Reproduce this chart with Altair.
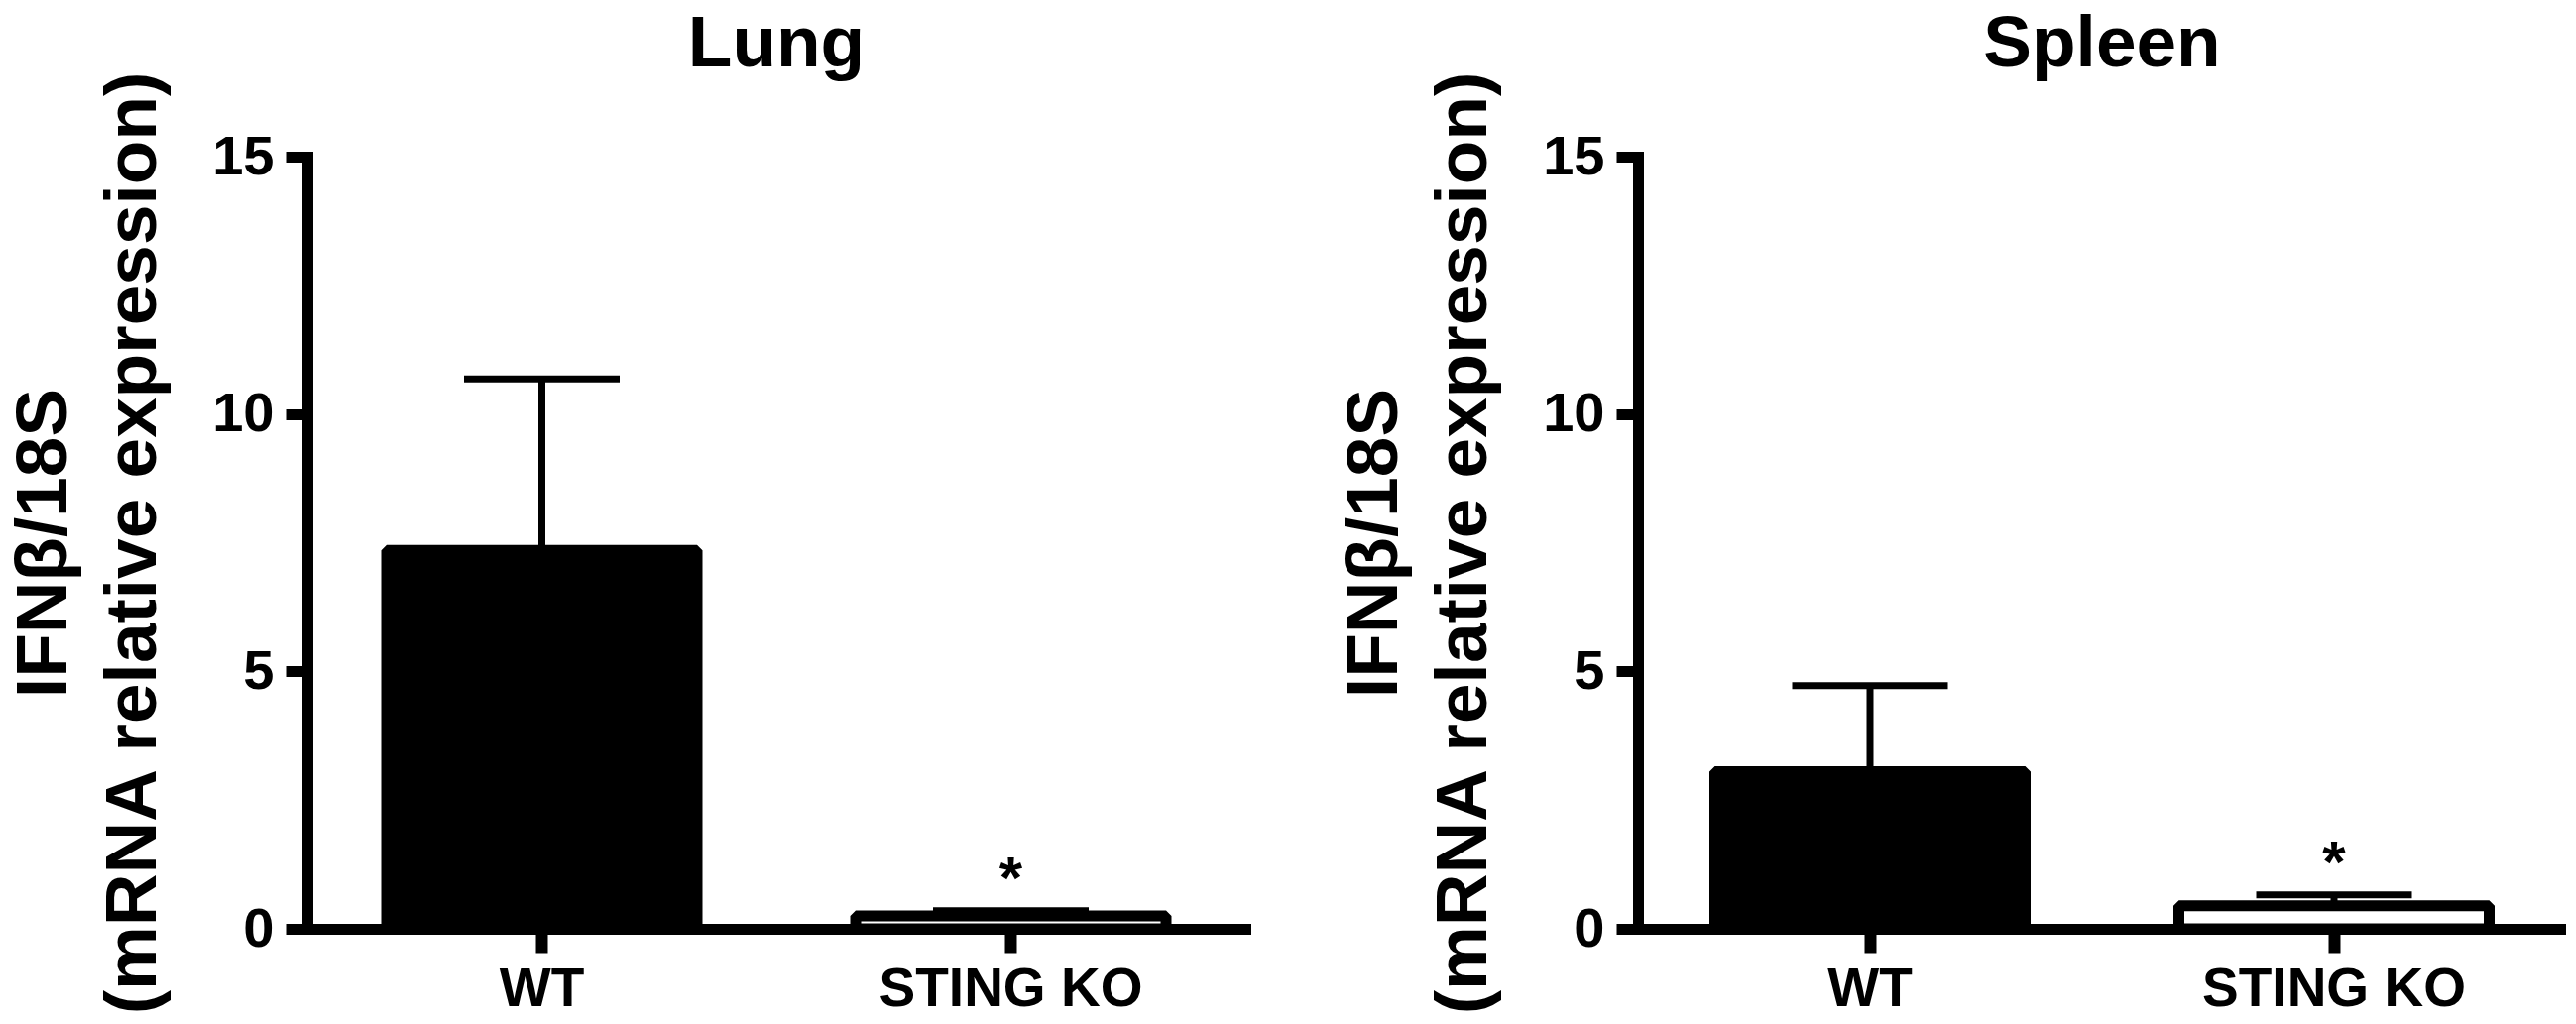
import altair as alt
import pandas as pd

groups = ["WT", "STING KO"]
lung_mean = [7.35, 0.25]
lung_sem = [3.33, 0.10]
spleen_mean = [3.05, 0.45]
spleen_sem = [1.67, 0.21]
significance = ["", "*"]
bar_fill = ["black", "white"]
y_ticks = [0, 5, 10, 15]
panel_titles = ["Lung", "Spleen"]
y_title = ["IFNβ/18S", "(mRNA relative expression)"]

FONT = "Liberation Sans"


def panel(title, means, sems, width):
    df = pd.DataFrame({"group": groups, "mean": means, "sem": sems, "sig": significance})
    df["top"] = df["mean"] + df["sem"]
    x = alt.X(
        "group:N",
        sort=groups,
        scale=alt.Scale(paddingInner=0, paddingOuter=0),
        axis=alt.Axis(
            title=None, labelAngle=0, labelFont=FONT, labelFontSize=55,
            labelFontWeight="bold", labelColor="black", labelPadding=10,
            labelLimit=600,
            tickSize=24, tickWidth=12, tickColor="black",
            domainWidth=11, domainColor="black", domainCap="square", grid=False,
        ),
    )
    yscale = alt.Scale(domain=[0, 15], nice=False, zero=True)
    base = alt.Chart(df).encode(x=x)
    bars = base.mark_bar(size=313, stroke="black", strokeWidth=11, strokeJoin="bevel", opacity=1).encode(
        y=alt.Y(
            "mean:Q", scale=yscale,
            axis=alt.Axis(
                values=y_ticks, title=y_title, titleFont=FONT, titleFontSize=73,
                titleFontWeight="bold", titleColor="black", titleLineHeight=90,
                titlePadding=42, labelFont=FONT, labelFontSize=56,
                labelFontWeight="bold", labelColor="black", labelPadding=12,
                tickSize=22, tickWidth=11, tickColor="black",
                domainWidth=11, domainColor="black", domainCap="square", grid=False,
            ),
        ),
        fill=alt.Fill("group:N", scale=alt.Scale(domain=groups, range=bar_fill), legend=None),
    )
    rule = base.mark_rule(strokeWidth=7, color="black", opacity=1).encode(
        y=alt.Y("mean:Q", scale=yscale), y2="top:Q"
    )
    cap = base.mark_tick(size=157, thickness=7, color="black", opacity=1).encode(
        y=alt.Y("top:Q", scale=yscale)
    )
    star = base.mark_text(
        font=FONT, fontSize=60, fontWeight="bold", color="black",
        baseline="alphabetic", dy=-13,
    ).encode(y=alt.Y("top:Q", scale=yscale), text="sig:N")
    return alt.layer(bars, rule, cap, star).properties(
        width=width,
        height=779,
        title=alt.TitleParams(
            text=title, font=FONT, fontSize=73, fontWeight="bold",
            color="black", anchor="middle", offset=-11,
        ),
    )


chart = alt.hconcat(
    panel(panel_titles[0], lung_mean, lung_sem, 946),
    panel(panel_titles[1], spleen_mean, spleen_sem, 936),
    spacing=94,
).properties(padding=0).configure(
    background="white",
    view=alt.ViewConfig(stroke="transparent", strokeWidth=0),
)

chart.save("out.html", embed_options={"renderer": "svg", "actions": False})
